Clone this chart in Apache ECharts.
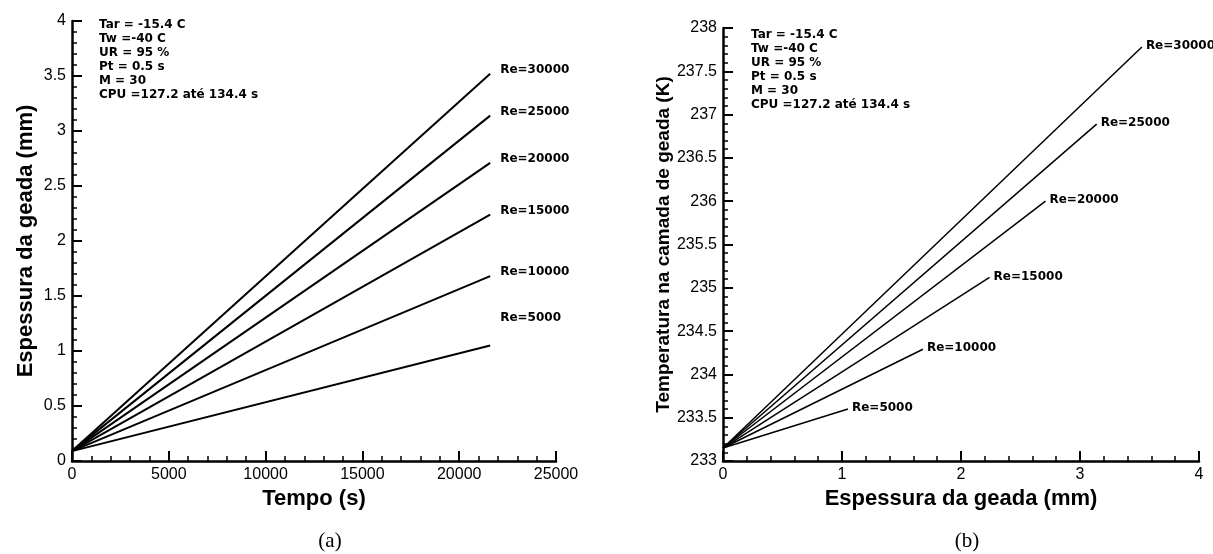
<!DOCTYPE html>
<html>
<head>
<meta charset="utf-8">
<script src="https://cdn.jsdelivr.net/npm/echarts@6/dist/echarts.min.js"></script>
<style>
  html, body { margin: 0; background: #fff; }
  #chart { width: 1213px; height: 554px; }
</style>
</head>
<body>
<div id="chart"></div>
<script>
// valores
const reNomes = ['Re=5000', 'Re=10000', 'Re=15000', 'Re=20000', 'Re=25000', 'Re=30000']
const tempoFinal = 21600 // s
const espessuraInicial = 0.09 // mm
const espessuraFinal = [1.05, 1.68, 2.24, 2.71, 3.14, 3.52] // mm
const tempInicial = 233.15 // K
const tempFinal = [233.6, 234.29, 235.12, 236.0, 236.89, 237.78] // K
const parametros = ['Tar = -15.4 C', 'Tw =-40 C', 'UR = 95 %', 'Pt = 0.5 s', 'M = 30', 'CPU =127.2 até 134.4 s']

const preto = '#000'

function eixo (opts) {
  return Object.assign({
    type: 'value',
    axisLine: { show: true, onZero: false, lineStyle: { color: preto, width: 2.5 } },
    axisTick: { show: true, inside: true, length: 10, lineStyle: { color: preto, width: 2 } },
    minorTick: { show: true, splitNumber: 5, length: 5, lineStyle: { color: preto, width: 1.5 } },
    splitLine: { show: false },
    minorSplitLine: { show: false },
    axisLabel: {
      color: preto,
      fontSize: 16,
      fontFamily: 'Liberation Sans',
      margin: 6,
      formatter: (v) => String(v) // sem separador de milhar
    },
    nameLocation: 'middle',
    nameTextStyle: { color: preto, fontSize: 22, fontWeight: 'bold', fontFamily: 'Liberation Sans' }
  }, opts)
}

function rotulo (distancia, dy) {
  return {
    show: true,
    formatter: '{a}',
    distance: distancia,
    offset: [0, dy],
    color: preto,
    fontSize: 12,
    fontWeight: 'bold',
    fontFamily: 'DejaVu Sans'
  }
}

const series = []
reNomes.forEach((nome, i) => {
  // (a) espessura x tempo
  series.push({
    name: nome,
    type: 'line',
    xAxisIndex: 0,
    yAxisIndex: 0,
    showSymbol: false,
    silent: true,
    lineStyle: { color: preto, width: 2 },
    data: [[0, espessuraInicial], [tempoFinal, espessuraFinal[i]]],
    endLabel: rotulo(10, i === 0 ? -28 : -4)
  })
  // (b) temperatura x espessura
  series.push({
    name: nome,
    type: 'line',
    xAxisIndex: 1,
    yAxisIndex: 1,
    showSymbol: false,
    silent: true,
    lineStyle: { color: preto, width: 1.5 },
    data: [[0, tempInicial], [espessuraFinal[i], tempFinal[i]]],
    endLabel: rotulo(4, -1)
  })
})

const chart = echarts.init(document.getElementById('chart'))
chart.setOption({
  animation: false,
  backgroundColor: '#fff',
  grid: [
    { left: 72, top: 21, width: 484, height: 440 },
    { left: 723, top: 28, width: 476, height: 433 }
  ],
  xAxis: [
    eixo({ gridIndex: 0, min: 0, max: 25000, interval: 5000, name: 'Tempo (s)', nameGap: 21 }),
    eixo({ gridIndex: 1, min: 0, max: 4, interval: 1, name: 'Espessura da geada (mm)', nameGap: 21 })
  ],
  yAxis: [
    eixo({ gridIndex: 0, min: 0, max: 4, interval: 0.5, name: 'Espessura da geada (mm)', nameGap: 35 }),
    eixo({
      gridIndex: 1,
      min: 233,
      max: 238,
      interval: 0.5,
      name: 'Temperatura na camada de geada (K)',
      nameGap: 50,
      nameTextStyle: { color: preto, fontSize: 19, fontWeight: 'bold', fontFamily: 'Liberation Sans' }
    })
  ],
  graphic: [
    {
      type: 'text',
      left: 99,
      top: 18,
      style: { text: parametros.join('\n'), fill: preto, font: 'bold 12px "DejaVu Sans"', lineHeight: 14 }
    },
    {
      type: 'text',
      left: 751,
      top: 28,
      style: { text: parametros.join('\n'), fill: preto, font: 'bold 12px "DejaVu Sans"', lineHeight: 14 }
    },
    {
      type: 'text',
      x: 330,
      y: 541,
      style: { text: '(a)', fill: preto, font: '21px "Liberation Serif"', align: 'center', verticalAlign: 'middle' }
    },
    {
      type: 'text',
      x: 967,
      y: 541,
      style: { text: '(b)', fill: preto, font: '21px "Liberation Serif"', align: 'center', verticalAlign: 'middle' }
    }
  ],
  series
})
</script>
</body>
</html>
